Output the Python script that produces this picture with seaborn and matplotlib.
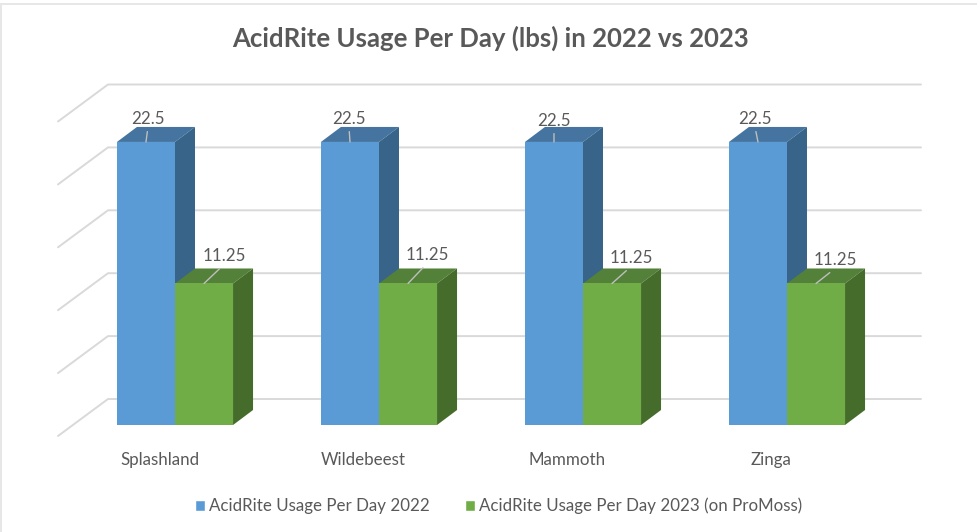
import pandas as pd
import numpy as np
import matplotlib.pyplot as plt
import seaborn as sns
from matplotlib.patches import Polygon
from matplotlib.transforms import ScaledTranslation

# -----------------------------
# Data
# -----------------------------
parks = ["Splashland", "Wildebeest", "Mammoth", "Zinga"]
usage_2022 = [22.5, 22.5, 22.5, 22.5]
usage_2023 = [11.25, 11.25, 11.25, 11.25]
series_names = ["AcidRite Usage Per Day 2022", "AcidRite Usage Per Day 2023 (on ProMoss)"]
grid_values = [0, 5, 10, 15, 20, 25]

df = pd.DataFrame({
    "park": parks * 2,
    "usage": usage_2022 + usage_2023,
    "series": [series_names[0]] * 4 + [series_names[1]] * 4,
})

# -----------------------------
# Styles / layout (pixels)
# -----------------------------
W, H = 978, 532
PX_CAT = 204.0     # px between parks
PX_UNIT = 12.58    # px per lb
BAR_DX, BAR_DY = 20, 15      # bar depth
WALL_DX, WALL_DY = 50, 37    # floor depth

front_cols = ["#5B9BD5", "#70AD47"]
top_cols = ["#44749F", "#53813A"]
side_cols = ["#386489", "#466C2B"]
grid_col = "#D9D9D9"
text_col = "#595959"

sns.set_theme(style="white")
plt.rcParams["font.family"] = ["Lato", "DejaVu Sans"]

fig = plt.figure(figsize=(W / 100, H / 100), dpi=100)
# plot area runs from the front corner of the floor to the end of the back wall
left, right, top, bottom = 58, 921, 70, 436
ax = fig.add_axes([left / W, 1 - bottom / H, (right - left) / W, (bottom - top) / H])

sns.barplot(
    data=df, x="park", y="usage", hue="series", order=parks, hue_order=series_names,
    palette=front_cols, width=0.569, gap=0, saturation=1, ax=ax, zorder=5, legend=False,
)

ax.set_xlim((left - 175) / PX_CAT, (right - 175) / PX_CAT)
ax.set_ylim((425 - bottom) / PX_UNIT, (425 - top) / PX_UNIT)
sns.despine(ax=ax, left=True, bottom=True)
ax.patch.set_alpha(0)
ax.set_xlabel("")
ax.set_ylabel("")
ax.set_yticks([])
ax.set_xticks(range(len(parks)), parks)
ax.tick_params(axis="x", length=0, pad=11.5, labelsize=12.2, labelcolor=text_col)

# x tick labels sit a bit left of the group centre, like in the 3D view
shift = ScaledTranslation(-15.5 / 100, 0, fig.dpi_scale_trans)
for lab in ax.get_xticklabels():
    lab.set_transform(lab.get_transform() + shift)

# -----------------------------
# Back wall and side wall gridlines
# -----------------------------
y0 = (425 - bottom) / PX_UNIT
wall_dx = WALL_DX / PX_CAT
wall_dy = WALL_DY / PX_UNIT
x_l = ax.get_xlim()[0]
x_r = ax.get_xlim()[1]
for v in grid_values:
    ax.plot(
        [x_l, x_l + wall_dx, x_r],
        [y0 + v, y0 + v + wall_dy, y0 + v + wall_dy],
        color=grid_col, lw=1.4, zorder=1, clip_on=False,
    )

# -----------------------------
# Top and side faces for the bars
# -----------------------------
dx = BAR_DX / PX_CAT
dy = BAR_DY / PX_UNIT
for s, cont in enumerate(ax.containers):
    for bar in cont:
        x0 = bar.get_x()
        x1 = x0 + bar.get_width()
        h = bar.get_height()
        z = 2 + s
        bar.set_zorder(z + 0.5)
        bar.set_edgecolor("none")
        ax.add_patch(Polygon([(x0, h), (x1, h), (x1 + dx, h + dy), (x0 + dx, h + dy)],
                             facecolor=top_cols[s], edgecolor="none", zorder=z))
        ax.add_patch(Polygon([(x1, 0), (x1 + dx, dy), (x1 + dx, h + dy), (x1, h)],
                             facecolor=side_cols[s], edgecolor="none", zorder=z))

# -----------------------------
# Data labels with leader lines
# -----------------------------
label_offsets = [
    [(2, 23), (-1, 23), (0, 21), (-3, 23)],
    [(20, 27), (19, 28), (19, 25), (19, 23)],
]
for s, cont in enumerate(ax.containers):
    for bar, off in zip(cont, label_offsets[s]):
        ax.annotate(
            f"{bar.get_height():g}",
            xy=(bar.get_x() + bar.get_width() / 2, bar.get_height()),
            xytext=off, textcoords="offset pixels", ha="center", va="center",
            fontsize=12.2, color=text_col, zorder=10,
            arrowprops=dict(arrowstyle="-", color="#BFBFBF", lw=1, shrinkA=1, shrinkB=0,
                            relpos=(0.5, 0)),
        )

# -----------------------------
# Title, legend, chart border
# -----------------------------
fig.text(491 / W, 1 - 38 / H, "AcidRite Usage Per Day (lbs) in 2022 vs 2023",
         ha="center", va="center", fontsize=18.5, fontweight="bold", color=text_col)

handles = [plt.Rectangle((0, 0), 1, 1, facecolor=c) for c in front_cols]
leg = fig.legend(
    handles, series_names, ncol=2, loc="center left", bbox_to_anchor=(195 / W, 1 - 506 / H),
    frameon=False, fontsize=12.2, labelcolor=text_col, handlelength=0.59, handleheight=0.59,
    handletextpad=0.24, columnspacing=2.1, borderaxespad=0, borderpad=0,
)

fig.add_artist(plt.Line2D([0, 1], [1 - 4 / H, 1 - 4 / H], color="#E7E7E7", lw=1.4))
fig.add_artist(plt.Line2D([1.5 / W, 1.5 / W], [0, 1 - 4 / H], color="#E7E7E7", lw=1.4))

fig.savefig("out.png", dpi=100)
